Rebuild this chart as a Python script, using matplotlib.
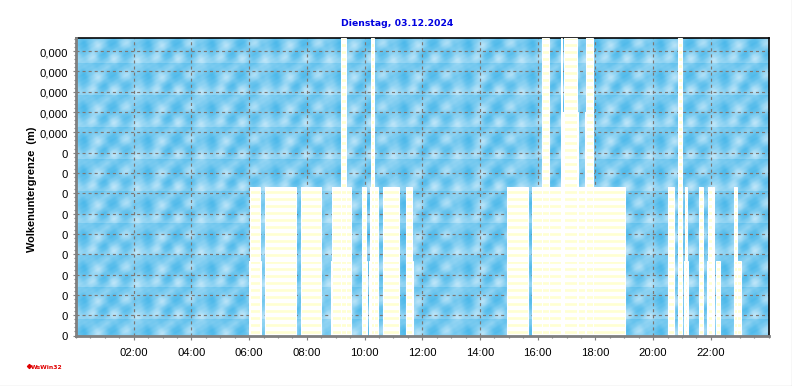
import numpy as np
import matplotlib
matplotlib.use("Agg")
import matplotlib.pyplot as plt
from matplotlib.lines import Line2D
from matplotlib.ticker import MultipleLocator

W, H, DPI = 792, 387, 84

title = "Dienstag, 03.12.2024"
ylabel = "Wolkenuntergrenze  (m)"
x_ticks = [2, 4, 6, 8, 10, 12, 14, 16, 18, 20, 22]
x_labels = ["02:00", "04:00", "06:00", "08:00", "10:00", "12:00", "14:00",
            "16:00", "18:00", "20:00", "22:00"]
y_ticks = [0.0001 * i for i in range(15)]
y_labels = ["0"] * 10 + ["0,000"] * 5
y_max = 0.001467

# cloud base level (m) and the periods (start hour, end hour) at this level
level_1 = 0.000367
periods_1 = [(5.99, 6.41), (6.55, 7.62), (7.79, 8.49), (8.83, 9.53), (9.91, 10.08),
             (10.15, 10.46), (10.63, 11.19), (11.43, 11.67), (14.93, 15.66), (15.79, 19.02),
             (20.51, 20.71), (20.85, 20.99), (21.06, 21.20), (21.58, 21.72), (21.86, 22.10),
             (22.17, 22.31), (22.79, 23.04)]
level_2 = 0.000733
periods_2 = [(6.03, 6.37), (6.55, 7.62), (7.79, 8.49), (8.87, 9.53), (9.91, 10.05),
             (10.18, 10.46), (10.63, 11.19), (11.43, 11.64), (14.93, 15.66), (15.79, 19.02),
             (20.51, 20.71), (20.85, 20.99), (21.09, 21.16), (21.58, 21.72), (21.89, 22.03),
             (22.06, 22.10), (22.79, 22.90)]
level_3 = 0.0011
periods_3 = [(16.14, 16.38), (16.80, 16.83), (16.87, 17.39), (17.63, 17.91)]
level_4 = 0.001467
periods_4 = [(9.18, 9.35), (10.22, 10.32), (16.14, 16.38), (16.80, 16.83), (16.90, 17.35),
             (17.67, 17.91), (20.85, 20.99)]
series = [(level_1, periods_1), (level_2, periods_2), (level_3, periods_3), (level_4, periods_4)]


def sky_tile(tw=64, th=32):
    """Cloudy blue wallpaper tile: dark and bright soft blobs, a faint band after a seam."""
    yy, xx = np.mgrid[0:th, 0:tw].astype(float)
    v = np.full(xx.shape, 0.58)
    blobs = [(7, 5, 5, -0.42), (36, 5, 5.5, -0.42), (8, 14, 4, -0.22), (27, 16, 4.5, -0.42),
             (50, 15, 5, -0.38), (58, 6, 3.5, -0.18), (20, 27, 5, -0.15), (45, 27, 5, -0.15),
             (22, 7, 4, 0.28), (49, 5, 4, 0.28), (16, 19, 3.5, 0.28), (38, 20, 4, 0.32),
             (60, 22, 4, 0.28), (30, 29, 3, 0.15)]
    for bx, by, s, a in blobs:
        for ox in (-tw, 0, tw):
            for oy in (-th, 0, th):
                v += a * np.exp(-(((xx - bx - ox) ** 2) + ((yy - by - oy) ** 2)) / (2 * s * s))
    band = np.where(yy >= 25, np.exp(-(yy - 25) / 5), np.exp(-(yy + 7) / 5))
    v -= 0.18 * band
    v += 0.03 * np.sin(2 * np.pi * xx / 8 + yy / 2) * np.cos(2 * np.pi * yy / 7)
    v = np.clip(v, 0, 1)[..., None]
    dark = np.array([0.24, 0.70, 0.91])
    light = np.array([0.82, 0.93, 0.985])
    return dark * (1 - v) + light * v


plt.rcParams["font.family"] = ["Liberation Sans", "DejaVu Sans"]
plt.rcParams["hatch.linewidth"] = 2.3

fig = plt.figure(figsize=(W / DPI, H / DPI), dpi=DPI, facecolor="white")
L, R, T, B = 76, 768.5, 38.5, 336.5
ax = fig.add_axes([L / W, 1 - B / H, (R - L) / W, (B - T) / H])

pw, ph = int(R - L), int(B - T)
tile = sky_tile()
rows = np.tile(tile, (ph // tile.shape[0] + 1, pw // tile.shape[1] + 1, 1))[:ph, :pw]
ax.imshow(rows, extent=[0, 24, 0, y_max], aspect="auto", interpolation="bilinear", zorder=0)

ax.set_xlim(0, 24)
ax.set_ylim(0, y_max)
ax.set_xticks(x_ticks, x_labels)
ax.set_yticks(y_ticks, y_labels)
ax.xaxis.set_minor_locator(MultipleLocator(0.5))
ax.yaxis.set_minor_locator(MultipleLocator(0.00002))
ax.grid(True, which="major", color="#7d7672", linestyle=(0, (2.6, 2.6)), linewidth=1.0, zorder=1)
ax.set_axisbelow(True)
ax.tick_params(axis="both", which="major", length=3, width=1, color="#808080", labelsize=9.6, pad=4)
ax.tick_params(axis="x", which="major", pad=6.5)
ax.tick_params(axis="both", which="minor", length=1.8, width=1, color="#808080")

for side in ("left", "bottom"):
    ax.spines[side].set_color("#808080")
    ax.spines[side].set_linewidth(2.4)
for side in ("top", "right"):
    ax.spines[side].set_color("black")
    ax.spines[side].set_linewidth(1.4)
ax.spines["left"].set_zorder(6)
ax.spines["bottom"].set_zorder(6)

for level, periods in series:
    starts = [p[0] for p in periods]
    widths = [p[1] - p[0] for p in periods]
    ax.bar(starts, level, width=widths, align="edge", facecolor="white", edgecolor="#ffffd2",
           hatch="--", linewidth=0, zorder=3, clip_on=False)
for level, periods in series:
    starts = [p[0] for p in periods]
    widths = [p[1] - p[0] for p in periods]
    ax.bar(starts, level, width=widths, align="edge", facecolor="none", edgecolor="white",
           linewidth=0.9, zorder=4, clip_on=False)

fig.text(397.5 / W, 1 - 24 / H, title, color="#0000e0", fontsize=7.9, fontweight="bold",
         ha="center", va="center", family=["DejaVu Sans"])
fig.text(32 / W, 1 - 189 / H, ylabel, color="black", fontsize=9.4, fontweight="bold",
         rotation=90, ha="center", va="center")
fig.text(31 / W, 1 - 367.5 / H, "WsWin32", color="#e00000", fontsize=5.2, fontweight="bold",
         ha="left", va="center", family=["DejaVu Sans"])
fig.add_artist(Line2D([29 / W], [1 - 367 / H], marker="D", markersize=2.6, color="#e00000",
                      markerfacecolor="#e00000", linestyle="none"))
fig.add_artist(Line2D([0, 791.5 / W, 791.5 / W], [0.5 / H, 0.5 / H, 1], color="#a0a0a0", linewidth=1))

fig.savefig("out.png", dpi=DPI)
